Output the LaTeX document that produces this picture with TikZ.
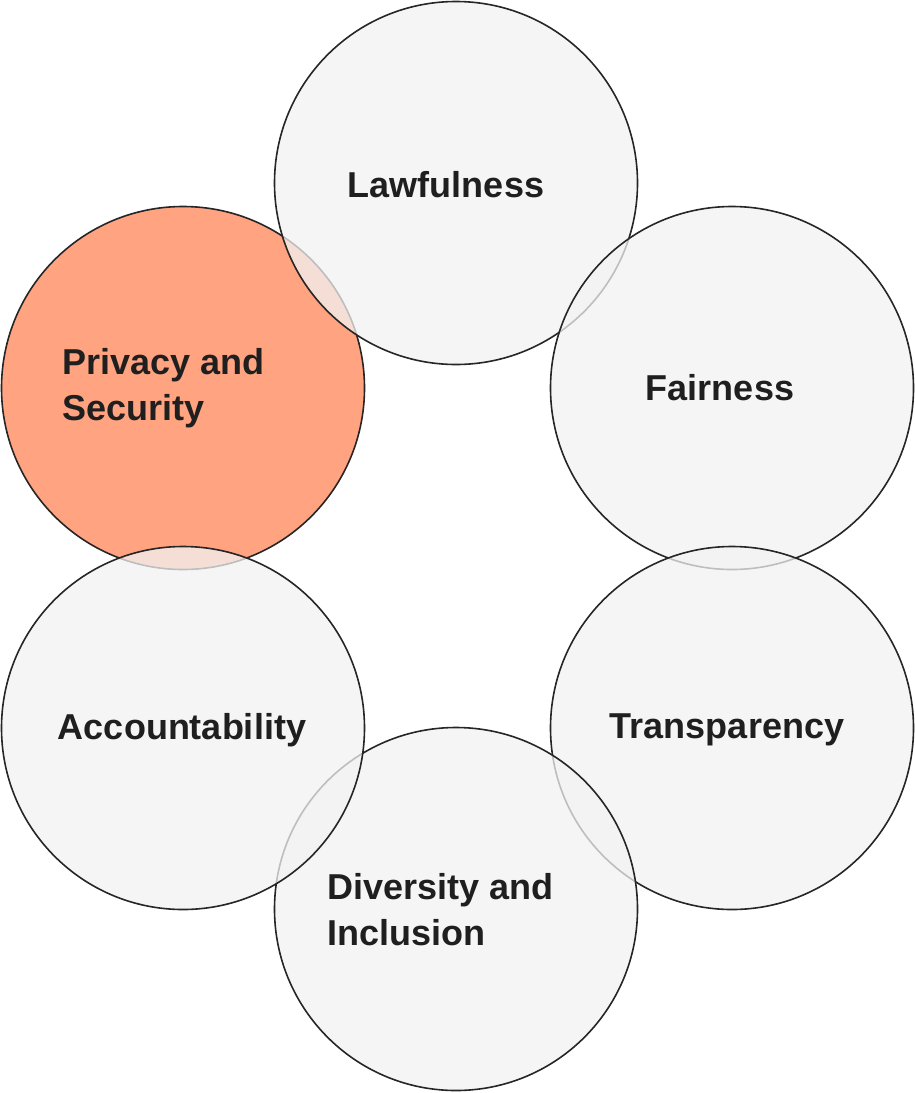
\documentclass[tikz,border=0pt]{standalone}
\usepackage{fontspec}
\setmainfont{Liberation Sans}
\begin{document}
\begin{tikzpicture}[x=1pt,y=-1pt,
  circ/.style={circle,draw=black!85,line width=1.6pt,fill=gray!10,fill opacity=0.75,minimum size=363pt,inner sep=0pt},
  lbl/.style={font=\fontsize{36}{46}\selectfont\bfseries,text=black!88,align=left,inner sep=0pt}]
\useasboundingbox (0,0) rectangle (914,1093);
\node[circ,fill=red!45!orange!55,fill opacity=0.9] (ps) at (183,388) {};
\node[circ] (lw) at (456,183) {};
\node[circ] (fa) at (732,388) {};
\node[circ] (tr) at (732,728) {};
\node[circ] (di) at (456,909) {};
\node[circ] (ac) at (183,728) {};
\node[lbl] (tlw) at (446,185) {Lawfulness};
\node[lbl,anchor=west] (tps) at (62,388) {Privacy and\\Security};
\node[lbl] (tfa) at (720,388) {Fairness};
\node[lbl] (ttr) at (727,730) {Transparency};
\node[lbl,anchor=west] (tdi) at (327,910) {Diversity and\\Inclusion};
\node[lbl] (tac) at (182,730) {Accountability};
\end{tikzpicture}
\end{document}
